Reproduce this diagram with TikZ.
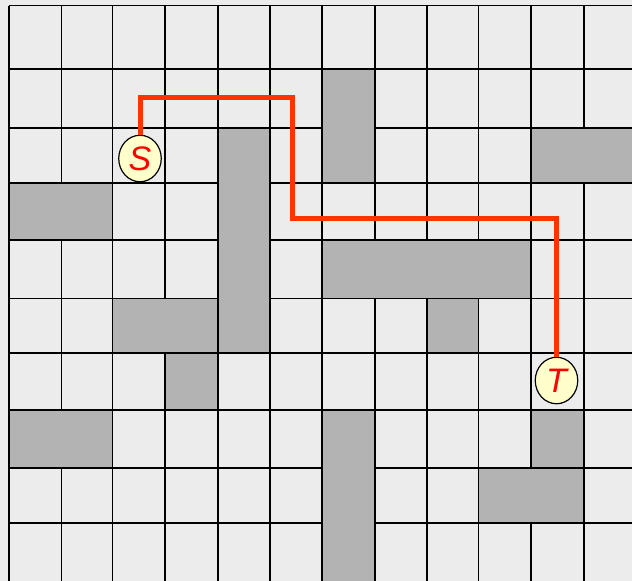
\documentclass[tikz,border=0pt]{standalone}
\usepackage{fontspec}
\setmainfont{Liberation Sans}
\usetikzlibrary{shapes.geometric}
\definecolor{bg}{HTML}{ECECEC}
\definecolor{blk}{HTML}{B3B3B3}
\definecolor{pathc}{HTML}{FF3300}
\definecolor{nodefill}{HTML}{FFFFCC}
\begin{document}
\begin{tikzpicture}[x=1pt,y=-1pt,
  gridline/.style={line width=1.3pt,draw=black},
  wall/.style={fill=blk,draw=black,line width=1.8pt},
  route/.style={line width=5pt,draw=pathc,line join=miter},
  endpoint/.style={ellipse,fill=nodefill,draw=black,line width=1.2pt,
    minimum width=42.5pt,minimum height=46.5pt,inner sep=0pt,text=red,
    font=\itshape\fontsize{34}{34}\selectfont}]
\fill[bg] (0,0) rectangle (632,581);
\useasboundingbox (0,0) rectangle (632,581);
\foreach \x in {9,61.5,112.5,165,218,270,322,375,427,478.5,531,584}
  \draw[gridline] (\x,5.7) -- (\x,590);
\foreach \y in {5.7,69,128,183,240,298.5,353,410,468,523}
  \draw[gridline] (9,\y) -- (640,\y);
\draw[wall] (322,69) rectangle (375,183);
\draw[wall] (531,128) rectangle (645,183);
\draw[wall] (9,183) rectangle (112.5,240);
\draw[wall] (218,128) rectangle (270,353);
\draw[wall] (112.5,298.5) rectangle (218,353);
\draw[wall] (165,353) rectangle (218,410);
\draw[wall] (322,240) rectangle (531,298.5);
\draw[wall] (427,298.5) rectangle (478.5,353);
\draw[wall] (9,410) rectangle (112.5,468);
\draw[wall] (322,410) rectangle (375,595);
\draw[wall] (531,410) rectangle (584,468);
\draw[wall] (478.5,468) rectangle (584,523);
\node[endpoint] (S) at (140,158.5) {S};
\node[endpoint] (T) at (556.5,380.5) {T};
\coordinate (c1) at (292.5,97);
\coordinate (c2) at (292.5,218);
\draw[route] (S.north) |- (c1) -- (c2) -| (T.north);
\end{tikzpicture}
\end{document}
